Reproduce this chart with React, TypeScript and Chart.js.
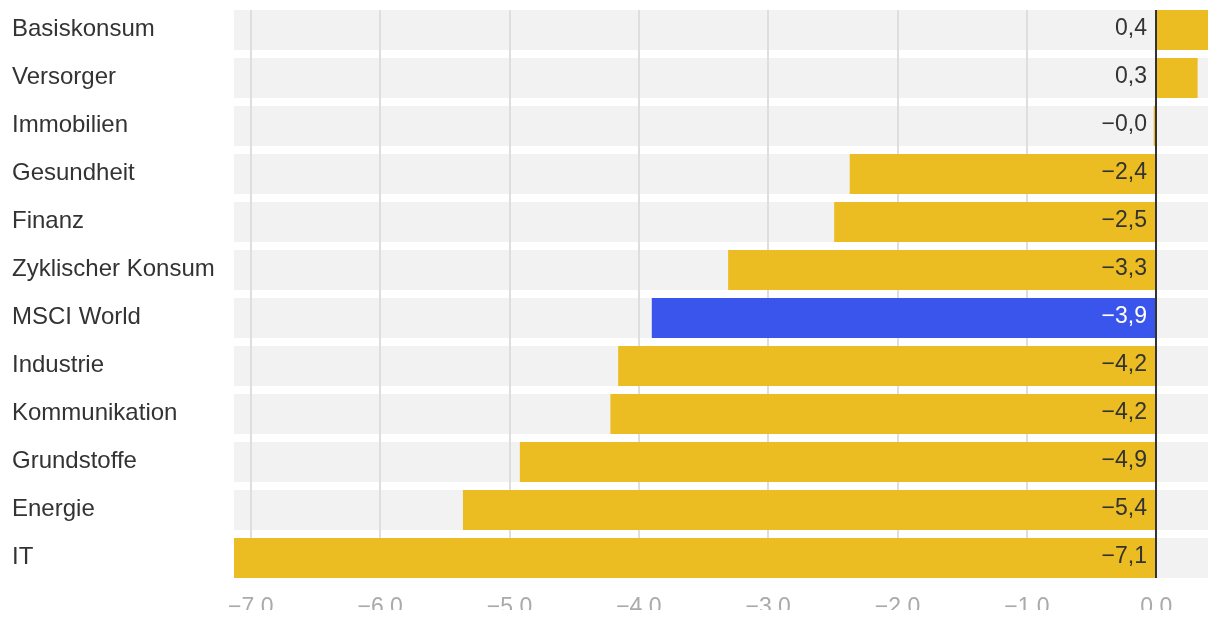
import React, { useEffect, useRef } from "react";
import { Chart, registerables } from "chart.js";

Chart.register(...registerables);

const categories: string[] = [
  "Basiskonsum",
  "Versorger",
  "Immobilien",
  "Gesundheit",
  "Finanz",
  "Zyklischer Konsum",
  "MSCI World",
  "Industrie",
  "Kommunikation",
  "Grundstoffe",
  "Energie",
  "IT",
];

const values: number[] = [0.4, 0.32, -0.02, -2.37, -2.49, -3.31, -3.9, -4.16, -4.22, -4.92, -5.36, -7.13];

const valueLabels: string[] = ["0,4", "0,3", "−0,0", "−2,4", "−2,5", "−3,3", "−3,9", "−4,2", "−4,2", "−4,9", "−5,4", "−7,1"];

const highlight = "MSCI World";

const xMin = -7.13;
const xMax = 0.4;

const YELLOW = "#EBBD22";
const BLUE = "#3A55EB";
const BAND = "#F2F2F2";
const GRID = "#DEDEDE";
const FONT = '"Liberation Sans", Arial, Helvetica, sans-serif';

const decorPlugin = {
  id: "decor",
  beforeDatasetsDraw(chart: any) {
    const { ctx, chartArea, scales } = chart;
    const x = scales.x;
    const y = scales.y;
    const half = 20;
    ctx.save();
    ctx.fillStyle = BAND;
    categories.forEach((_, i) => {
      const cy = y.getPixelForValue(i);
      ctx.fillRect(chartArea.left, cy - half, chartArea.right - chartArea.left, half * 2);
    });
    const top = y.getPixelForValue(0) - half;
    const bottom = y.getPixelForValue(categories.length - 1) + half;
    ctx.strokeStyle = GRID;
    ctx.lineWidth = 2;
    x.ticks.forEach((t: any) => {
      if (t.value === 0) return;
      const px = Math.round(x.getPixelForValue(t.value));
      ctx.beginPath();
      ctx.moveTo(px, top);
      ctx.lineTo(px, bottom);
      ctx.stroke();
    });
    ctx.restore();
  },
  afterDatasetsDraw(chart: any) {
    const { ctx, scales } = chart;
    const x = scales.x;
    const y = scales.y;
    const half = 20;
    const zx = Math.round(x.getPixelForValue(0));
    const top = y.getPixelForValue(0) - half;
    const bottom = y.getPixelForValue(categories.length - 1) + half;
    ctx.save();
    ctx.strokeStyle = "#333333";
    ctx.lineWidth = 2;
    ctx.beginPath();
    ctx.moveTo(zx, top);
    ctx.lineTo(zx, bottom);
    ctx.stroke();
    ctx.font = `23px ${FONT}`;
    ctx.textAlign = "right";
    ctx.textBaseline = "middle";
    categories.forEach((c, i) => {
      const cy = y.getPixelForValue(i) - 1;
      ctx.fillStyle = c === highlight ? "#FFFFFF" : "#333333";
      ctx.fillText(valueLabels[i], zx - 9, cy);
    });
    ctx.font = `24px ${FONT}`;
    ctx.textAlign = "left";
    ctx.fillStyle = "#333333";
    categories.forEach((c, i) => {
      const cy = y.getPixelForValue(i) - 1;
      ctx.fillText(c, 12, cy);
    });
    ctx.restore();
  },
};

export default function App() {
  const ref = useRef<HTMLCanvasElement | null>(null);

  useEffect(() => {
    if (!ref.current) return;
    Chart.defaults.font.family = FONT;
    const chart = new Chart(ref.current, {
      type: "bar",
      data: {
        labels: categories,
        datasets: [
          {
            data: values,
            backgroundColor: categories.map((c) => (c === highlight ? BLUE : YELLOW)),
            borderWidth: 0,
            barPercentage: 40 / 48,
            categoryPercentage: 1,
          },
        ],
      },
      options: {
        indexAxis: "y",
        animation: false,
        responsive: false,
        devicePixelRatio: 1,
        layout: { padding: { left: 12, right: 12, top: 6, bottom: 0 } },
        plugins: {
          legend: { display: false },
          tooltip: { enabled: false },
        },
        scales: {
          x: {
            type: "linear",
            min: xMin,
            max: xMax,
            grid: { display: false },
            border: { display: false },
            afterFit: (s: any) => {
              s.height = 28;
            },
            ticks: {
              stepSize: 1,
              includeBounds: false,
              maxRotation: 0,
              autoSkip: false,
              color: "#AAAAAA",
              font: { size: 23, family: FONT },
              padding: 4,
              callback: (v: any) => {
                const n = Number(v);
                return (n < 0 ? "−" : "") + Math.abs(n).toFixed(1);
              },
            },
          },
          y: {
            type: "category",
            grid: { display: false },
            border: { display: false },
            afterFit: (s: any) => {
              s.width = 222;
            },
            ticks: { display: false },
          },
        },
      },
      plugins: [decorPlugin],
    } as any);
    return () => chart.destroy();
  }, []);

  return (
    <div style={{ position: "absolute", left: 0, top: 0, width: 1220, height: 610, overflow: "hidden" }}>
      <canvas ref={ref} width={1220} height={610} style={{ display: "block", width: 1220, height: 610 }} />
    </div>
  );
}
